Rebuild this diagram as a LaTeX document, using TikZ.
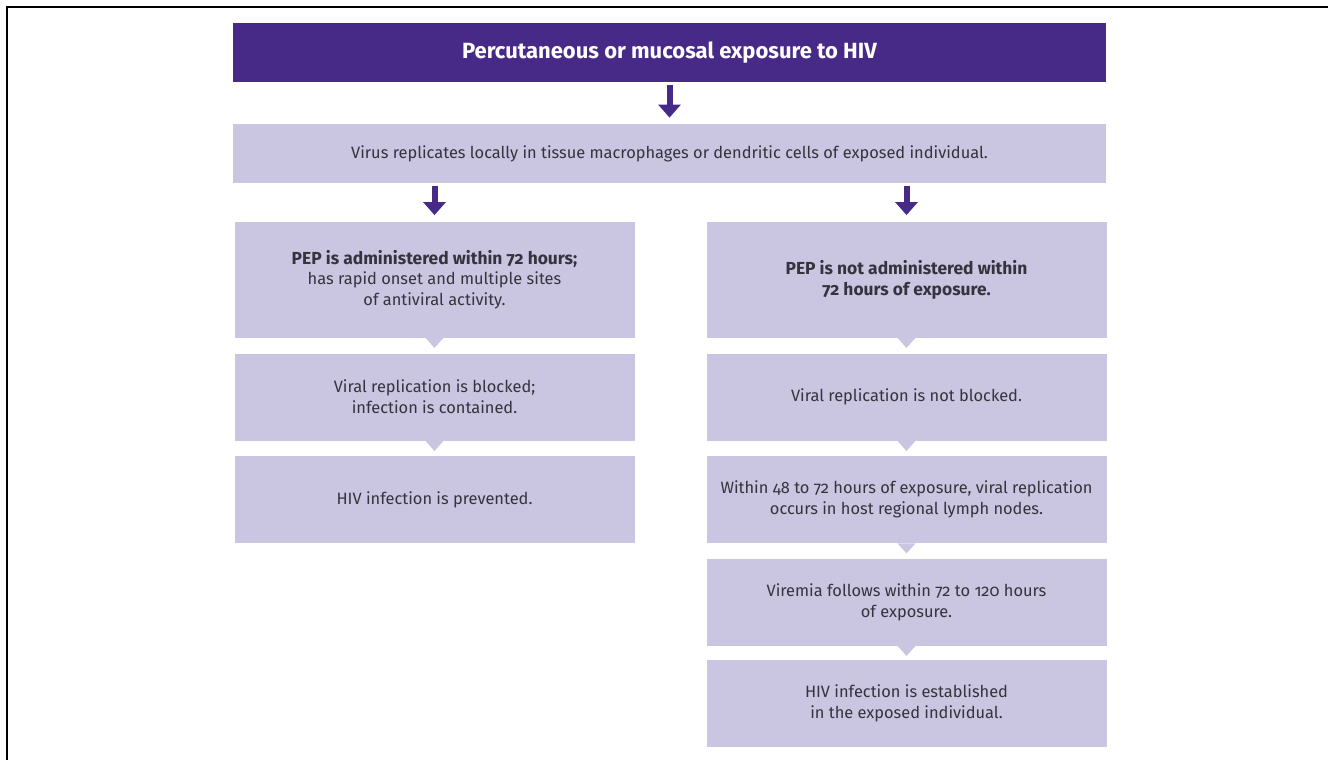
\documentclass[tikz,border=0pt]{standalone}
\usepackage{fontspec}
\setmainfont{Fira Sans}[Numbers=OldStyle]
\usetikzlibrary{positioning}
\usetikzlibrary{arrows.meta}
\definecolor{hivdark}{HTML}{472A87}
\definecolor{hivlight}{HTML}{CAC5E0}
\definecolor{hivtext}{HTML}{35333D}
\newcommand{\hivbold}[1]{{\bfseries\fontsize{8.7pt}{10.4pt}\selectfont #1}}
\tikzset{
    topbox/.style = {rectangle, inner sep=0pt, align=center, fill=hivdark, text=white, minimum width=436.5pt, minimum height=29.5pt, font=\bfseries\fontsize{11pt}{13pt}\selectfont},
    widebox/.style = {rectangle, inner sep=0pt, align=center, fill=hivlight, text=hivtext, minimum width=436.5pt, minimum height=29.5pt, font=\fontsize{8.2pt}{10.4pt}\selectfont},
    stepbox/.style = {rectangle, inner sep=0pt, align=center, fill=hivlight, text=hivtext, minimum width=200pt, minimum height=43.5pt, font=\fontsize{8.2pt}{10.4pt}\selectfont},
    tallbox/.style = {stepbox, minimum height=58pt},
    edgearr/.style = {-{Triangle[width=11pt,length=6.5pt]}, line width=3pt, hivdark, shorten <=1.5pt, shorten >=3pt},
    notch/.style = {fill=hivlight}
}
\begin{document}
\begin{tikzpicture}[x=0.5pt,y=-0.5pt]
\useasboundingbox (0,0) rectangle (1328,760);
\draw[line width=1.3pt] (1328,7) -- (7,7) -- (7,760);
\node[topbox] at (669.5, 52.5) (expo) {Percutaneous or mucosal exposure to HIV};
\node[widebox] at (669.5, 153.5) (virus) {Virus replicates locally in tissue macrophages or dendritic cells of exposed individual.};
\node[tallbox] at (434.5, 279.5) (pepa) {\hivbold{PEP is administered within 72 hours;}\\has rapid onset and multiple sites\\of antiviral activity.};
\node[stepbox] at (434.5, 397) (blocka) {Viral replication is blocked;\\infection is contained.};
\node[stepbox] at (434.5, 499.5) (preva) {HIV infection is prevented.};
\node[tallbox] at (906.5, 279.5) (pepb) {\hivbold{PEP is not administered within}\\\hivbold{72 hours of exposure.}};
\node[stepbox] at (906.5, 397) (blockb) {Viral replication is not blocked.};
\node[stepbox] at (906.5, 499.5) (lymph) {Within 48 to 72 hours of exposure, viral replication\\occurs in host regional lymph nodes.};
\node[stepbox] at (906.5, 602) (viremia) {Viremia follows within 72 to 120 hours\\of exposure.};
\node[stepbox] at (906.5, 703.5) (estab) {HIV infection is established\\in the exposed individual.};
%
\draw[edgearr] (expo) -- (virus);
\draw[edgearr] (virus.south -| pepa) -- (pepa);
\draw[edgearr] (virus.south -| pepb) -- (pepb);
\foreach \n in {pepa,blocka,pepb,blockb,lymph,viremia}
    \fill[notch] (\n.south) ++(-9,0) -- ++(18,0) -- ++(-9,10) -- cycle;

\end{tikzpicture}
\end{document}
